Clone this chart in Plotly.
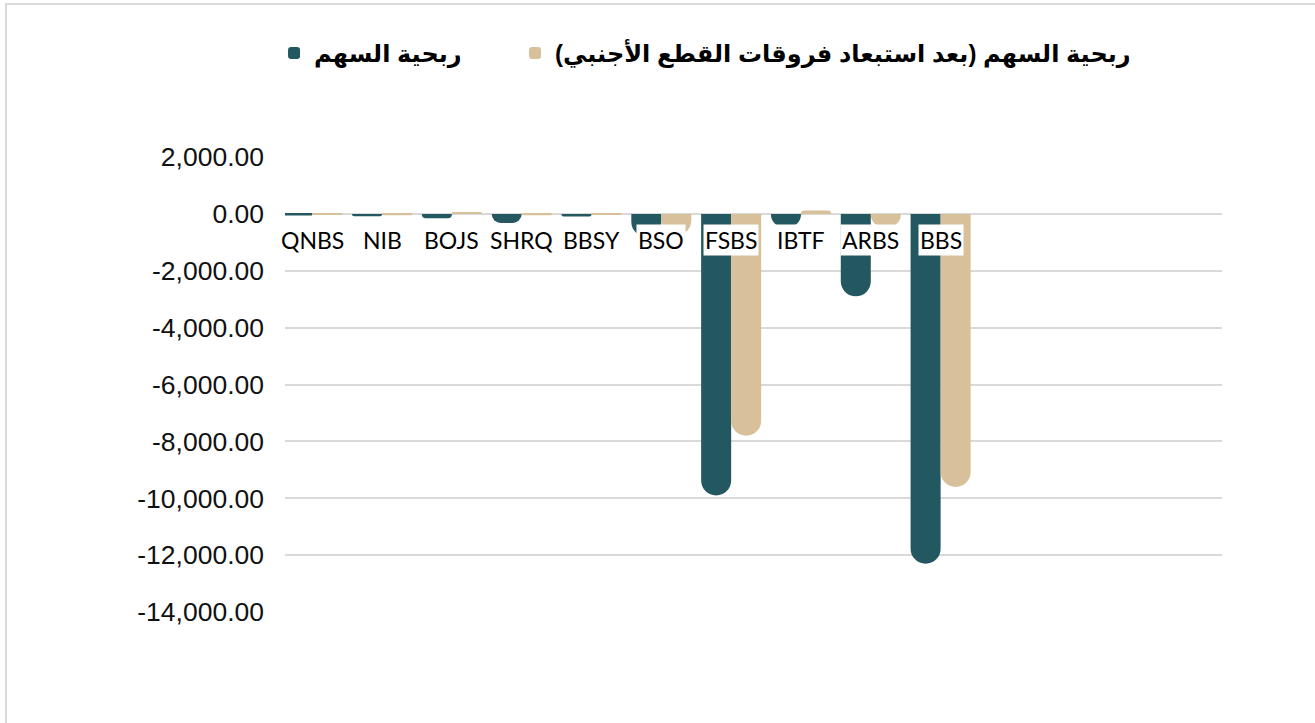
import plotly.graph_objects as go

# ---- data ----
categories = ["QNBS", "NIB", "BOJS", "SHRQ", "BBSY", "BSO", "FSBS", "IBTF", "ARBS", "BBS"]
eps = [-60, -80, -150, -320, -90, -800, -9900, -450, -2900, -12300]
eps_adj = [-40, -50, 60, -50, -40, -750, -7800, 120, -450, -9600]
series_names = ["ربحية السهم", "ربحية السهم (بعد استبعاد فروقات القطع الأجنبي)\u200F"]
y_ticks = [2000, 0, -2000, -4000, -6000, -8000, -10000, -12000, -14000]
y_tick_text = [f"{v:,.2f}" for v in y_ticks]

TEAL = "#245860"
TAN = "#D8C09A"

fig = go.Figure()
fig.add_trace(go.Bar(x=categories, y=eps, name=series_names[0], legend="legend",
                     marker=dict(color=TEAL, line=dict(width=0))))
fig.add_trace(go.Bar(x=categories, y=eps_adj, name=series_names[1], legend="legend2",
                     marker=dict(color=TAN, line=dict(width=0))))

# category labels just under the zero line, with white boxes
for c in categories:
    fig.add_annotation(x=c, y=0, xref="x", yref="y", text=c, showarrow=False,
                       yanchor="top", yshift=-10, bgcolor="white", borderpad=1,
                       font=dict(family="Lato, Carlito, sans-serif", size=23, color="#000000"))

# outer chart border
fig.add_shape(type="rect", xref="paper", yref="paper",
              x0=-0.2978, x1=1.3, y0=-0.6, y1=1.3363,
              line=dict(color="#D9D9D9", width=2), fillcolor="rgba(0,0,0,0)", layer="below")

legend_font = dict(family="Liberation Sans, Arial, DejaVu Sans, sans-serif",
                   size=24, color="#000000", weight="bold")

fig.update_layout(
    width=1315, height=723,
    margin=dict(l=285, r=93, t=157, b=111),
    paper_bgcolor="white", plot_bgcolor="white",
    barmode="group", bargap=0.14, bargroupgap=0.0,
    barcornerradius=15,
    showlegend=True,
    legend=dict(orientation="h", x=-0.0117, xanchor="left", y=1.277, yanchor="top",
                font=legend_font, bgcolor="rgba(0,0,0,0)"),
    legend2=dict(orientation="h", x=0.2455, xanchor="left", y=1.277, yanchor="top",
                 font=legend_font, bgcolor="rgba(0,0,0,0)"),
    xaxis=dict(range=[-0.39, 13.03], showticklabels=False, showgrid=False,
               zeroline=False, showline=False, ticks=""),
    yaxis=dict(range=[-14000, 2000], tickvals=y_ticks, ticktext=y_tick_text,
               showgrid=True, gridcolor="#D9D9D9", gridwidth=2,
               zeroline=True, zerolinecolor="#D9D9D9", zerolinewidth=2,
               showline=False, ticks="", ticklabelstandoff=20,
               tickfont=dict(family="Liberation Sans, Arial, sans-serif", size=26.5, color="#111111")),
)

fig.write_html("out.html", config={"displayModeBar": False},
               post_script="document.body.style.margin='0px';")
